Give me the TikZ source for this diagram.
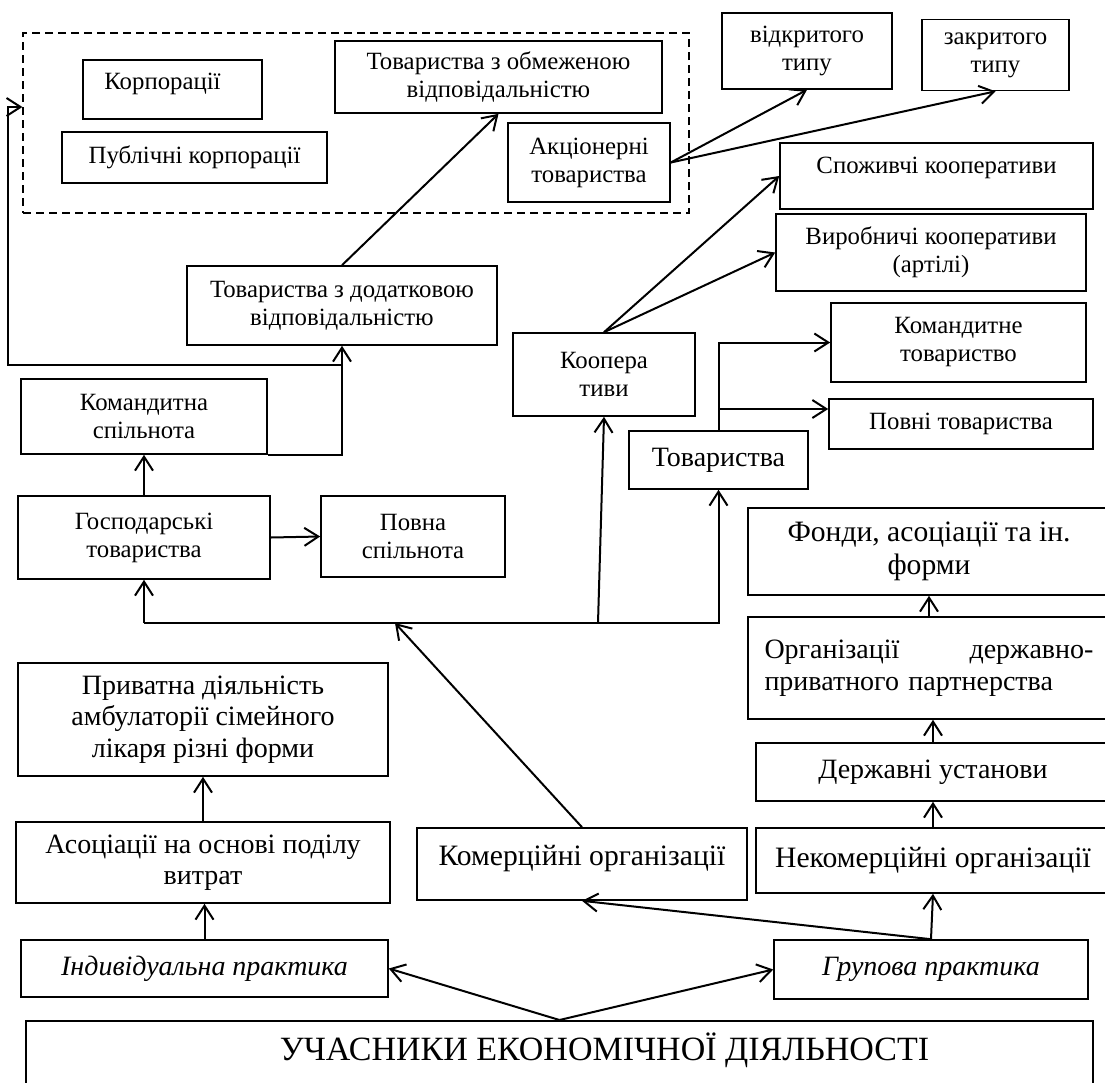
\documentclass[tikz,border=0pt]{standalone}
\usepackage{fontspec}
\setmainfont{Liberation Serif}
\usetikzlibrary{arrows.meta}

\begin{document}
\begin{tikzpicture}[x=0.5pt, y=-0.5pt,
    box/.style={draw, line width=0.8pt, align=center, inner sep=1pt, font=\fontsize{12.4}{14}\selectfont},
    big/.style={font=\fontsize{14}{15.8}\selectfont},
    bigger/.style={font=\fontsize{14.8}{16.6}\selectfont},
    arr/.style={-{Straight Barb[length=7pt,width=9pt]}, line width=1pt}]
  \useasboundingbox (0,0) rectangle (1105,1083);

  % dashed group of company forms
  \node[draw, dashed, dash pattern=on 4pt off 2.5pt, line width=0.6pt, minimum width=333pt, minimum height=90pt] (group) at (356,123) {};
  \node[box, minimum width=89.5pt, minimum height=29.5pt, text depth=8pt] (korp) at (172.5,89.5) {Корпорації\hspace*{10pt}};
  \node[box, minimum width=132.5pt, minimum height=25.5pt] (pubkorp) at (194.5,157.5) {Публічні корпорації};
  \node[box, minimum width=163.5pt, minimum height=36pt] (tzov) at (498.5,77) {Товариства з обмеженою\\відповідальністю};
  \node[box, minimum width=81pt, minimum height=39.5pt] (akc) at (589,162.5) {Акціонерні\\товариства};

  \node[box, minimum width=85pt, minimum height=38pt] (vidkr) at (807,51) {відкритого\\типу};
  \node[box, minimum width=73.5pt, minimum height=35.5pt] (zakr) at (995.5,55) {закритого\\типу};

  \node[box, minimum width=156.5pt, minimum height=33pt, text depth=11pt] (spoz) at (936.5,176) {Споживчі кооперативи};
  \node[box, minimum width=155pt, minimum height=38.5pt] (vyrob) at (931,252.5) {Виробничі кооперативи\\(артілі)};

  \node[box, minimum width=155pt, minimum height=39.5pt] (tzdv) at (342,305.5) {Товариства з додатковою\\відповідальністю};
  \node[box, minimum width=91pt, minimum height=41.5pt] (koop) at (604,374.5) {Коопера\\тиви};
  \node[box, minimum width=127.5pt, minimum height=39.5pt] (komandytne) at (958.5,342.5) {Командитне\\товариство};
  \node[box, minimum width=132pt, minimum height=25pt] (povni) at (961,424) {Повні товариства};
  \node[box, big, minimum width=89.5pt, minimum height=29pt] (tovar) at (718.5,460) {Товариства};

  \node[box, minimum width=123pt, minimum height=37.5pt] (komspil) at (144,416.5) {Командитна\\спільнота};
  \node[box, minimum width=126pt, minimum height=41.5pt] (gosp) at (144,537.5) {Господарські\\товариства};
  \node[box, minimum width=92pt, minimum height=40.5pt] (povna) at (413,536.5) {Повна\\спільнота};

  \node[box, bigger, minimum width=181pt, minimum height=43.5pt] (fondy) at (929,551.5) {Фонди, асоціації та ін.\\форми};
  \node[box, big, minimum width=181pt, minimum height=51pt, text width=164.5pt, align=left] (orgdpp) at (929,668) {Організації\hfill державно-\\приватного партнерства};
  \node[box, big, minimum width=177pt, minimum height=29pt] (derzh) at (933,772) {Державні установи};
  \node[box, bigger, minimum width=177pt, minimum height=32.5pt] (nekom) at (933,860.5) {Некомерційні організації};

  \node[box, big, minimum width=185pt, minimum height=56.5pt] (pryv) at (203,719.5) {Приватна діяльність\\амбулаторії сімейного\\лікаря різні форми};
  \node[box, big, minimum width=187pt, minimum height=40.5pt] (asoc) at (203,862.5) {Асоціації на основі поділу\\витрат};
  \node[box, bigger, minimum width=165pt, minimum height=36pt, text depth=9pt] (komerc) at (582,864) {Комерційні організації};

  \node[box, big, minimum width=183.5pt, minimum height=28.5pt] (indyv) at (204.5,968.5) {\itshape Індивідуальна практика};
  \node[box, big, minimum width=157pt, minimum height=29.5pt] (grup) at (931,969.5) {\itshape Групова практика};

  \node[box, anchor=north, minimum width=533.5pt, font=\fontsize{17}{20}\selectfont, text height=12pt, text depth=40pt, inner ysep=8pt] (uchasnyky) at (559.5,1020) {\hspace*{45pt}УЧАСНИКИ ЕКОНОМІЧНОЇ ДІЯЛЬНОСТІ};

  % helper points
  \coordinate (bus) at (395,623);
  \coordinate (buskoop) at (598,623);
  \coordinate (loopcorner) at (8,365);
  \coordinate (looptop) at (8,107);
  \coordinate (povnistart) at (718,409);

  % connectors
  \draw[arr] (uchasnyky.north) -- (indyv.east);
  \draw[arr] (uchasnyky.north) -- (grup.west);
  \draw[arr] (indyv.north) -- (indyv.north |- asoc.south);
  \draw[arr] (asoc.north) -- (asoc.north |- pryv.south);
  \draw[arr] (grup.north) -- (nekom.south);
  \draw[arr] (grup.north) -- (komerc.south);
  \draw[arr] (nekom.north) -- (derzh.south);
  \draw[arr] (derzh.north) -- (derzh.north |- orgdpp.south);
  \draw[arr] (orgdpp.north) -- (orgdpp.north |- fondy.south);

  \draw[arr] (komerc.north) -- (bus);
  \draw[arr] (gosp.south |- bus) -- (gosp.south);
  \draw[arr] (gosp.south |- bus) -- (tovar.south |- bus) -- (tovar.south);
  \draw[arr] (buskoop) -- (koop.south);

  \draw[arr] (gosp.east) -- (povna.west);
  \draw[arr] (gosp.north) -- (komspil.south);
  \draw[arr] (komspil.south east) -- (tzdv.south |- komspil.south east) -- (tzdv.south);
  \draw[arr] (tzdv.south |- loopcorner) -- (loopcorner) -- (looptop) -- (group.west |- looptop);
  \draw[arr] (tzdv.north) -- (tzov.south);

  \draw[arr] (akc.east) -- (vidkr.south);
  \draw[arr] (akc.east) -- (zakr.south);
  \draw[arr] (koop.north) -- (spoz.west);
  \draw[arr] (koop.north) -- (vyrob.west);

  \draw[arr] (tovar.north) |- (komandytne.west);
  \draw[arr] (tovar.north |- povnistart) -- (povni.west |- povnistart);
\end{tikzpicture}
\end{document}
